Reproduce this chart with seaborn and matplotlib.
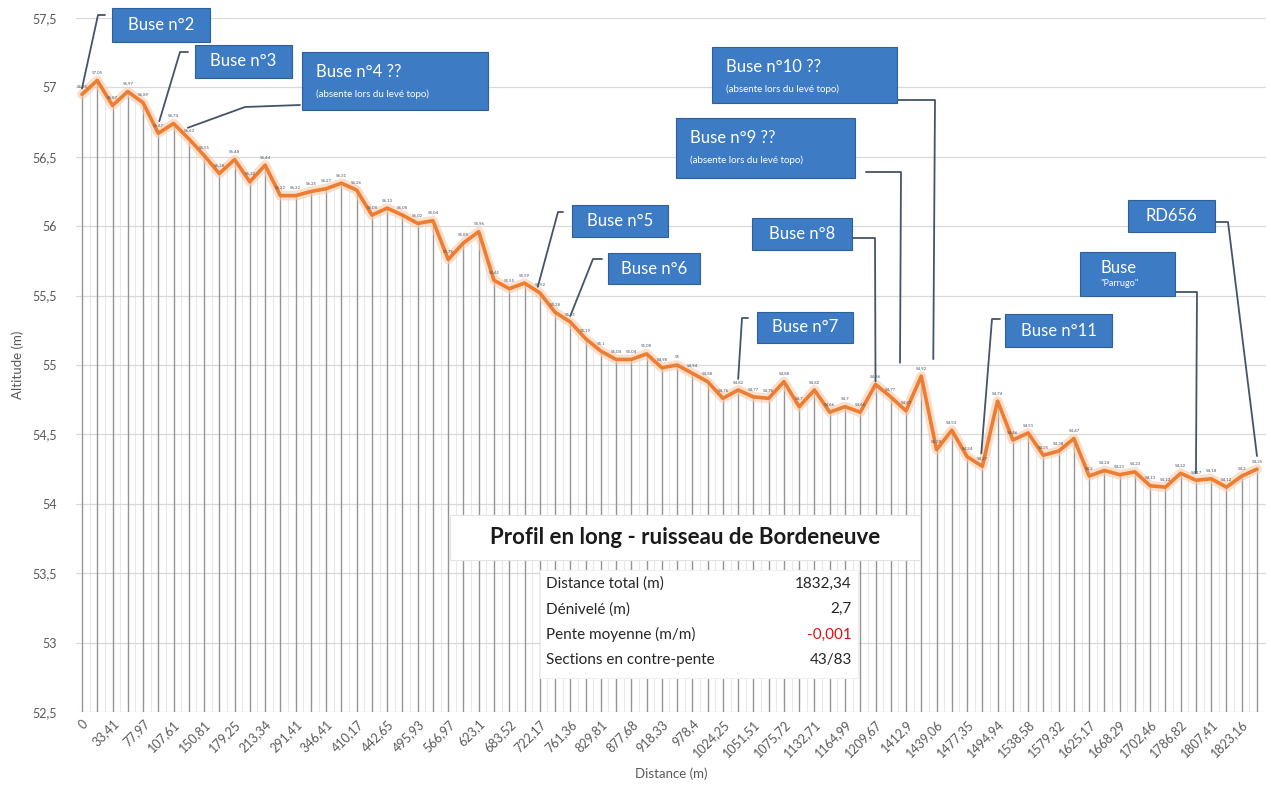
import numpy as np
import matplotlib
matplotlib.use('Agg')
import matplotlib.pyplot as plt
import seaborn as sns
from matplotlib.lines import Line2D
from matplotlib.patches import Rectangle
from matplotlib.ticker import FuncFormatter

# altitude (m) pour chaque point levé
altitude = [56.95, 57.05, 56.87, 56.97, 56.89, 56.67, 56.74, 56.63, 56.51, 56.38,
            56.48, 56.32, 56.44, 56.22, 56.22, 56.25, 56.27, 56.31, 56.26, 56.08,
            56.13, 56.08, 56.02, 56.04, 55.76, 55.88, 55.96, 55.61, 55.55, 55.59,
            55.52, 55.38, 55.31, 55.19, 55.10, 55.04, 55.04, 55.08, 54.98, 55.00,
            54.94, 54.88, 54.76, 54.82, 54.77, 54.76, 54.88, 54.70, 54.82, 54.66,
            54.70, 54.66, 54.86, 54.77, 54.67, 54.92, 54.39, 54.53, 54.34, 54.27,
            54.74, 54.46, 54.51, 54.35, 54.38, 54.47, 54.20, 54.24, 54.21, 54.23,
            54.13, 54.12, 54.22, 54.17, 54.18, 54.12, 54.20, 54.25]
# distances affichées (un point sur deux)
dist_labels = ['0', '33,41', '77,97', '107,61', '150,81', '179,25', '213,34', '291,41',
               '346,41', '410,17', '442,65', '495,93', '566,97', '623,1', '683,52',
               '722,17', '761,36', '829,81', '877,68', '918,33', '978,4', '1024,25',
               '1051,51', '1075,72', '1132,71', '1164,99', '1209,67', '1412,9',
               '1439,06', '1477,35', '1494,94', '1538,58', '1579,32', '1625,17',
               '1668,29', '1702,46', '1786,82', '1807,41', '1823,16']
stats_labels = ['Distance total (m)', 'Dénivelé (m)', 'Pente moyenne (m/m)', 'Sections en contre-pente']
stats_values = ['1832,34', '2,7', '-0,001', '43/83']
# buses : (texte, sous-texte, index du point)
buses = [('Buse n°2', '', 0), ('Buse n°3', '', 5), ('Buse n°4 ??', '(absente lors du levé topo)', 7),
         ('Buse n°5', '', 30), ('Buse n°6', '', 32), ('Buse n°7', '', 43), ('Buse n°8', '', 52),
         ('Buse n°9 ??', '(absente lors du levé topo)', 54), ('Buse n°10 ??', '(absente lors du levé topo)', 55),
         ('Buse n°11', '', 59), ('Buse', '"Parrugo"', 73), ('RD656', '', 77)]

# mise en page (pixels)
boxes = [(112, 8, 210, 42), (195, 45, 292, 78), (302, 52, 488, 110), (572, 205, 668, 237),
         (608, 253, 700, 284), (757, 312, 853, 343), (752, 218, 852, 250), (676, 118, 855, 178),
         (712, 47, 897, 103), (1005, 314, 1112, 347), (1080, 252, 1175, 296), (1128, 200, 1215, 232)]
leaders = [([(105, 15), (98, 15)], (0, -6)), ([(188, 52), (180, 52)], (1, -12)),
           ([(300, 105), (245, 107)], (-1, -11)), ([(563, 212), (558, 212)], (-2, -6)),
           ([(602, 259), (593, 259)], (0, -6)), ([(748, 318), (742, 318)], (0, -11)),
           ([(853, 238), (875, 238)], (0, -3)), ([(866, 172), (901, 172)], (-6, -48)),
           ([(897, 100), (935, 100)], (12, -17)), ([(1000, 319), (992, 319)], (-1, -13)),
           ([(1175, 292), (1197, 292)], (0, -7)), ([(1215, 222), (1228, 222)], (0, -13))]

sns.set_theme(style='white')
plt.rcParams['font.family'] = ['Lato', 'DejaVu Sans']

W, H = 1271, 799
fig = plt.figure(figsize=(W / 100, H / 100), dpi=100)
ax = fig.add_axes([76 / W, 1 - 712 / H, 1190 / W, 694 / H])

x = np.arange(len(altitude))
ax.set_xlim(-0.393, 77.59)
ax.set_ylim(52.5, 57.5)

alt = np.array(altitude)
ax.vlines(x[:-1] + 0.5, 52.5, (alt[:-1] + alt[1:]) / 2, color='#E8E8E8', lw=0.8, zorder=0)
ax.set_yticks(np.arange(52.5, 57.51, 0.5))
ax.grid(axis='y', color='#D9D9D9', lw=0.9)
ax.vlines(x, 52.5, altitude, color='#959595', lw=1.0, zorder=1)

sns.lineplot(x=x, y=altitude, ax=ax, color='#F8CBAD', lw=7, alpha=0.6, zorder=2)
sns.lineplot(x=x, y=altitude, ax=ax, color='#ED7D31', lw=2.6, zorder=3)

for i, v in enumerate(altitude):
    ax.annotate(f'{v:g}'.replace('.', ','), (i, v), xytext=(0, 5), textcoords='offset points',
                fontsize=3.2, ha='center', color='#44546A', zorder=4)

for s in ax.spines.values():
    s.set_visible(False)
ax.set_xticks(x[::2])
ax.set_xticklabels(dist_labels, rotation=45, ha='right', rotation_mode='anchor',
                   fontsize=9, color='#595959')
ax.yaxis.set_major_formatter(FuncFormatter(lambda v, p: f'{v:g}'.replace('.', ',')))
ax.tick_params(axis='y', labelsize=9, labelcolor='#595959', length=0, pad=14)
ax.tick_params(axis='x', length=0, pad=4)
ax.set_ylabel('Altitude (m)', fontsize=9.5, color='#595959', labelpad=6)
ax.set_xlabel('Distance (m)', fontsize=9.5, color='#595959', labelpad=6)


def fpt(px, py):
    return px / W, 1 - py / H


def pt_px(i):
    d = ax.transData.transform((i, altitude[i]))
    return d[0], H - d[1]


# encadré titre + tableau
x0, y0, x1, y1 = 450, 515, 920, 560
fig.add_artist(Rectangle(fpt(x0, y1), (x1 - x0) / W, (y1 - y0) / H, transform=fig.transFigure,
                         fc='white', ec='#E3E3E3', lw=0.8, zorder=5))
fig.text(*fpt(685, 538), 'Profil en long - ruisseau de Bordeneuve', fontsize=16, fontweight='bold',
         ha='center', va='center', color='#1A1A1A', zorder=6)
x0, y0, x1, y1 = 540, 570, 858, 678
fig.add_artist(Rectangle(fpt(x0, y1), (x1 - x0) / W, (y1 - y0) / H, transform=fig.transFigure,
                         fc='white', ec='#EFEFEF', lw=0.8, zorder=5))
for k, (lab, val) in enumerate(zip(stats_labels, stats_values)):
    yy = 584 + k * 25.3
    fig.text(*fpt(546, yy), lab, fontsize=11, ha='left', va='center', color='#262626', zorder=6)
    fig.text(*fpt(852, yy), val, fontsize=11, ha='right', va='center',
             color='#E01010' if val.startswith('-') else '#262626', zorder=6)

# bulles des buses
for (txt, sub, idx), (bx0, by0, bx1, by1), (path, (dx, dy)) in zip(buses, boxes, leaders):
    px, py = pt_px(idx)
    pts = path + [(px + dx, py + dy)]
    fig.add_artist(Line2D([p[0] / W for p in pts], [1 - p[1] / H for p in pts],
                          transform=fig.transFigure, color='#44546A', lw=1.3, zorder=7))
    fig.add_artist(Rectangle(fpt(bx0, by1), (bx1 - bx0) / W, (by1 - by0) / H,
                             transform=fig.transFigure, fc='#3D7BC4', ec='#2F5F9A', lw=0.8, zorder=8))
    if not sub:
        fig.text(*fpt((bx0 + bx1) / 2, (by0 + by1) / 2), txt, fontsize=12, color='white',
                 ha='center', va='center', zorder=9)
    elif txt == 'Buse':
        fig.text(*fpt(bx0 + 20, by0 + 16), txt, fontsize=12, color='white', ha='left', va='center', zorder=9)
        fig.text(*fpt(bx0 + 20, by0 + 32), sub, fontsize=6.5, color='white', ha='left', va='center', zorder=9)
    else:
        fig.text(*fpt(bx0 + 14, by0 + 20), txt, fontsize=12, color='white', ha='left', va='center', zorder=9)
        fig.text(*fpt(bx0 + 14, by0 + 42), sub, fontsize=7, color='white', ha='left', va='center', zorder=9)

fig.savefig('out.png', dpi=100)
